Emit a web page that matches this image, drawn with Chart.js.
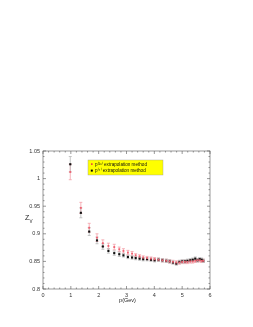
<!DOCTYPE html>
<html>
<head>
<meta charset="utf-8">
<script src="https://cdn.jsdelivr.net/npm/chart.js@4.4.0/dist/chart.umd.min.js"></script>
<style>
  html, body { margin: 0; padding: 0; background: #fff; }
  #plot { position: absolute; left: 0; top: 0; }
</style>
</head>
<body>
<canvas id="plot" width="253" height="327"></canvas>
<script>
// momentum values p (GeV)
let momentos = [0.98, 1.36, 1.66, 1.94, 2.15, 2.35, 2.56, 2.74, 2.89, 3.05, 3.2, 3.33, 3.47, 3.6, 3.74, 3.88, 4.01, 4.15, 4.29, 4.43, 4.55, 4.67, 4.79, 4.9, 5.0, 5.1, 5.19, 5.29, 5.38, 5.47, 5.55, 5.63, 5.7, 5.76];

// p^(2n) extrapolation (red)
let zvRojo = [1.012, 0.947, 0.911, 0.893, 0.883, 0.878, 0.876, 0.872, 0.869, 0.866, 0.864, 0.861, 0.859, 0.857, 0.856, 0.855, 0.854, 0.853, 0.852, 0.851, 0.85, 0.849, 0.848, 0.848, 0.849, 0.849, 0.849, 0.85, 0.85, 0.851, 0.852, 0.852, 0.851, 0.851];
let errRojo = [0.014, 0.01, 0.008, 0.007, 0.006, 0.005, 0.005, 0.004, 0.004, 0.004, 0.004, 0.003, 0.003, 0.003, 0.003, 0.003, 0.003, 0.003, 0.003, 0.003, 0.003, 0.003, 0.003, 0.003, 0.003, 0.003, 0.003, 0.003, 0.003, 0.003, 0.003, 0.003, 0.003, 0.003];

// p^(4) extrapolation (black)
let zvNegro = [1.026, 0.938, 0.904, 0.888, 0.877, 0.869, 0.865, 0.863, 0.861, 0.858, 0.857, 0.856, 0.855, 0.854, 0.854, 0.853, 0.852, 0.853, 0.852, 0.851, 0.85, 0.848, 0.846, 0.849, 0.85, 0.85, 0.851, 0.852, 0.853, 0.855, 0.852, 0.854, 0.853, 0.851];
let errNegro = [0.014, 0.009, 0.007, 0.006, 0.005, 0.004, 0.004, 0.004, 0.003, 0.003, 0.003, 0.003, 0.003, 0.003, 0.003, 0.003, 0.003, 0.003, 0.003, 0.003, 0.003, 0.003, 0.003, 0.003, 0.003, 0.003, 0.003, 0.003, 0.003, 0.003, 0.003, 0.003, 0.003, 0.003];

let xTicks = [0, 1, 2, 3, 4, 5, 6];
let yTicks = [0.8, 0.85, 0.9, 0.95, 1, 1.05];
let leyendas = ["p\u207D\u00B2\u207F\u207E extrapolation method", "p\u207D\u2074\u207E extrapolation method"];

let fuente = "'Liberation Sans', Arial, sans-serif";

let puntos = (ys) => momentos.map((x, i) => ({ x: x, y: ys[i] }));

//barras de error dibujadas con las escalas
let barrasError = {
  id: "barrasError",
  beforeDatasetsDraw(chart) {
    let ctx = chart.ctx;
    let xs = chart.scales.x;
    let ys = chart.scales.y;
    let series = [
      { v: zvRojo, e: errRojo, c: "#f4a0a8" },
      { v: zvNegro, e: errNegro, c: "#b8b8b8" },
    ];
    ctx.save();
    ctx.lineWidth = 0.8;
    series.forEach((s) => {
      ctx.strokeStyle = s.c;
      momentos.forEach((p, i) => {
        let px = xs.getPixelForValue(p);
        let top = ys.getPixelForValue(s.v[i] + s.e[i]);
        let bot = ys.getPixelForValue(s.v[i] - s.e[i]);
        ctx.beginPath();
        ctx.moveTo(px, top);
        ctx.lineTo(px, bot);
        ctx.moveTo(px - 1.5, top);
        ctx.lineTo(px + 1.5, top);
        ctx.moveTo(px - 1.5, bot);
        ctx.lineTo(px + 1.5, bot);
        ctx.stroke();
      });
    });
    ctx.restore();
  },
};

//marco, ticks interiores, titulos y leyenda
let marco = {
  id: "marco",
  afterDraw(chart) {
    let ctx = chart.ctx;
    let a = chart.chartArea;
    let xs = chart.scales.x;
    let ys = chart.scales.y;
    ctx.save();
    ctx.strokeStyle = "#555";
    ctx.lineWidth = 0.6;
    ctx.strokeRect(a.left, a.top, a.right - a.left, a.bottom - a.top);

    ctx.beginPath();
    for (let v = 0; v <= 6.0001; v += 0.2) {
      let px = xs.getPixelForValue(v);
      let major = Math.abs(v - Math.round(v)) < 1e-6;
      let len = major ? 3 : 1.5;
      ctx.moveTo(px, a.bottom);
      ctx.lineTo(px, a.bottom - len);
      ctx.moveTo(px, a.top);
      ctx.lineTo(px, a.top + len);
    }
    for (let k = 0; k <= 25; k++) {
      let v = 0.8 + k * 0.01;
      let py = ys.getPixelForValue(v);
      let len = k % 5 === 0 ? 3 : 1.5;
      ctx.moveTo(a.left, py);
      ctx.lineTo(a.left + len, py);
      ctx.moveTo(a.right, py);
      ctx.lineTo(a.right - len, py);
    }
    ctx.stroke();

    // titulo eje y: Z_V
    ctx.fillStyle = "#222";
    ctx.textBaseline = "alphabetic";
    ctx.font = "7px " + fuente;
    ctx.fillText("Z", 25, 220);
    ctx.font = "4.5px " + fuente;
    ctx.fillText("V", 29.5, 222.5);

    // titulo eje x
    ctx.font = "5.5px " + fuente;
    ctx.textAlign = "center";
    ctx.fillText("p(Gev)", (a.left + a.right) / 2 + 1, 302);

    // leyenda
    let lx = 88, ly = 160, lw = 75, lh = 15;
    ctx.fillStyle = "#ffff00";
    ctx.fillRect(lx, ly, lw, lh);
    ctx.strokeStyle = "#999";
    ctx.lineWidth = 0.4;
    ctx.strokeRect(lx, ly, lw, lh);
    ctx.textAlign = "left";
    ctx.textBaseline = "middle";
    ctx.font = "4.6px " + fuente;
    ctx.fillStyle = "#ee3344";
    ctx.fillRect(lx + 3, ly + 3.3, 1.6, 1.6);
    ctx.fillStyle = "#000";
    ctx.fillRect(lx + 2.8, ly + 9.6, 2, 2);
    ctx.fillStyle = "#111";
    ctx.fillText(leyendas[0], lx + 7, ly + 4.3);
    ctx.fillText(leyendas[1], lx + 7, ly + 10.8);
    ctx.restore();
  },
};

let plotRef = document.getElementById("plot");

let config = {
  type: "scatter",
  data: {
    datasets: [
      {
        label: leyendas[0],
        data: puntos(zvRojo),
        pointStyle: "rect",
        pointRadius: 1.3,
        backgroundColor: "#f06070",
        borderColor: "#f06070",
        borderWidth: 0,
      },
      {
        label: leyendas[1],
        data: puntos(zvNegro),
        pointStyle: "rect",
        pointRadius: 1.5,
        backgroundColor: "#111",
        borderColor: "#111",
        borderWidth: 0,
      },
    ],
  },
  options: {
    responsive: false,
    animation: false,
    layout: { padding: { left: 0, right: 43, top: 151, bottom: 0 } },
    plugins: { legend: { display: false }, tooltip: { enabled: false } },
    scales: {
      x: {
        type: "linear",
        min: 0,
        max: 6,
        afterBuildTicks: (s) => { s.ticks = xTicks.map((v) => ({ value: v })); },
        afterFit: (s) => { s.height = 38; },
        grid: { display: false, drawTicks: false },
        border: { display: false },
        ticks: { padding: 3, color: "#333", font: { size: 5.5, family: fuente } },
      },
      y: {
        type: "linear",
        min: 0.8,
        max: 1.05,
        afterBuildTicks: (s) => { s.ticks = yTicks.map((v) => ({ value: v })); },
        afterFit: (s) => { s.width = 43; },
        grid: { display: false, drawTicks: false },
        border: { display: false },
        ticks: {
          padding: 3,
          color: "#333",
          font: { size: 5.5, family: fuente },
          callback: (v) => String(Math.round(v * 100) / 100),
        },
      },
    },
  },
  plugins: [barrasError, marco],
};

let chart1 = new Chart(plotRef, config);
</script>
</body>
</html>
